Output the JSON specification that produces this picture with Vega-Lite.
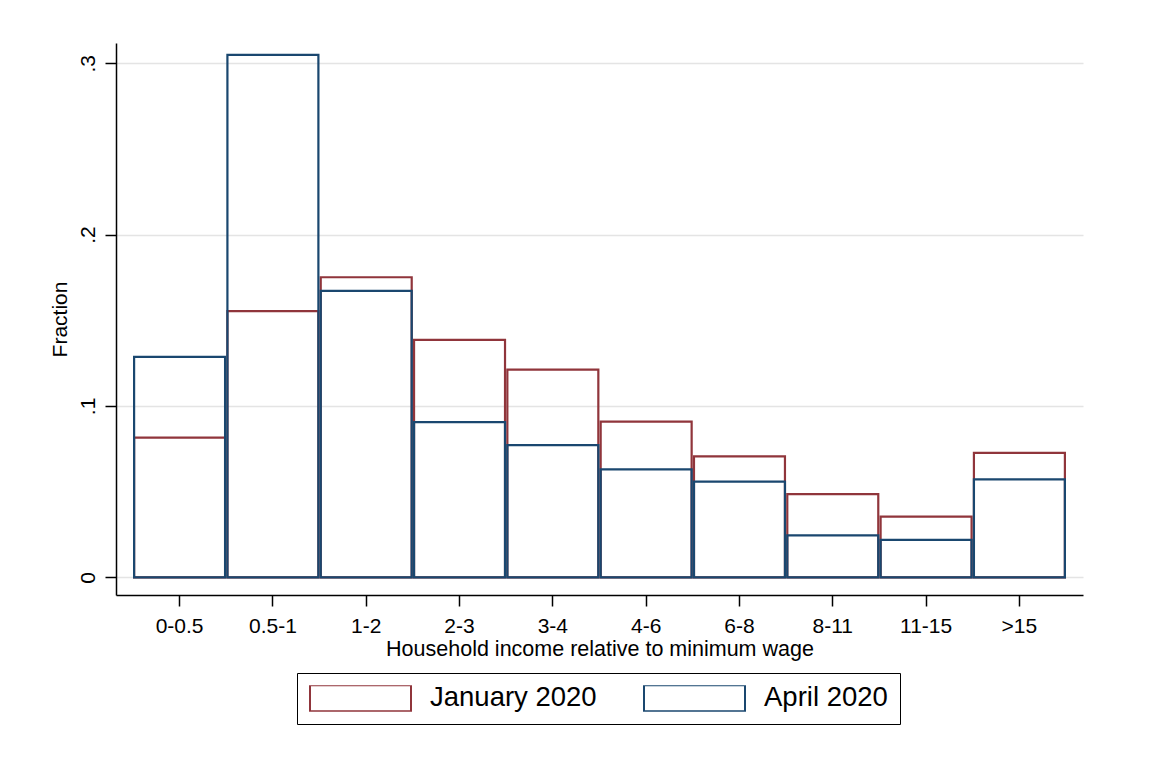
{
  "$schema": "https://vega.github.io/schema/vega-lite/v6.json",
  "width": 967,
  "height": 552,
  "autosize": {"type": "none"},
  "padding": {"left": 116, "top": 43, "right": 92, "bottom": 166},
  "background": "white",
  "config": {"view": {"stroke": null}, "font": "Liberation Sans"},
  "data": {"values": [
    {"bin": "0-0.5", "series": "January 2020", "fraction": 0.0815},
    {"bin": "0.5-1", "series": "January 2020", "fraction": 0.1553},
    {"bin": "1-2", "series": "January 2020", "fraction": 0.1751},
    {"bin": "2-3", "series": "January 2020", "fraction": 0.1385},
    {"bin": "3-4", "series": "January 2020", "fraction": 0.1212},
    {"bin": "4-6", "series": "January 2020", "fraction": 0.0908},
    {"bin": "6-8", "series": "January 2020", "fraction": 0.0706},
    {"bin": "8-11", "series": "January 2020", "fraction": 0.0485},
    {"bin": "11-15", "series": "January 2020", "fraction": 0.0354},
    {"bin": ">15", "series": "January 2020", "fraction": 0.0726},
    {"bin": "0-0.5", "series": "April 2020", "fraction": 0.1286},
    {"bin": "0.5-1", "series": "April 2020", "fraction": 0.3049},
    {"bin": "1-2", "series": "April 2020", "fraction": 0.1671},
    {"bin": "2-3", "series": "April 2020", "fraction": 0.0905},
    {"bin": "3-4", "series": "April 2020", "fraction": 0.0771},
    {"bin": "4-6", "series": "April 2020", "fraction": 0.0630},
    {"bin": "6-8", "series": "April 2020", "fraction": 0.0558},
    {"bin": "8-11", "series": "April 2020", "fraction": 0.0245},
    {"bin": "11-15", "series": "April 2020", "fraction": 0.0218},
    {"bin": ">15", "series": "April 2020", "fraction": 0.0572}
  ]},
  "mark": {"type": "bar", "filled": false, "strokeWidth": 2.2},
  "encoding": {
    "x": {
      "field": "bin",
      "type": "nominal",
      "sort": ["0-0.5", "0.5-1", "1-2", "2-3", "3-4", "4-6", "6-8", "8-11", "11-15", ">15"],
      "scale": {"paddingInner": 0.025, "paddingOuter": 0.194},
      "axis": {
        "title": "Household income relative to minimum wage",
        "labelAngle": 0,
        "labelFontSize": 21,
        "titleFontSize": 21.5,
        "titleFontWeight": "normal",
        "tickSize": 11,
        "labelPadding": 9,
        "titlePadding": 2,
        "domainColor": "black",
        "tickColor": "black",
        "domainWidth": 1.5,
        "tickWidth": 1.5,
        "labelColor": "black",
        "titleColor": "black",
        "grid": false
      }
    },
    "y": {
      "field": "fraction",
      "type": "quantitative",
      "stack": null,
      "scale": {"domain": [-0.01033, 0.3118], "nice": false, "zero": false},
      "axis": {
        "title": "Fraction",
        "values": [0, 0.1, 0.2, 0.3],
        "labelExpr": "datum.value == 0 ? '0' : replace(format(datum.value, '.1f'), '0.', '.')",
        "labelAngle": -90,
        "labelFontSize": 21,
        "titleFontSize": 21,
        "titleFontWeight": "normal",
        "tickSize": 11,
        "labelPadding": 7,
        "titlePadding": 7,
        "domainColor": "black",
        "tickColor": "black",
        "domainWidth": 1.5,
        "tickWidth": 1.5,
        "labelColor": "black",
        "titleColor": "black",
        "grid": true,
        "gridColor": "#e4e4e4",
        "gridWidth": 1.5
      }
    },
    "y2": {"datum": 0},
    "stroke": {
      "field": "series",
      "type": "nominal",
      "scale": {"domain": ["January 2020", "April 2020"], "range": ["#90353b", "#1a476f"]},
      "legend": {
        "title": null,
        "orient": "none",
        "legendX": 181,
        "legendY": 630,
        "direction": "horizontal",
        "symbolType": "M-1,-0.2574L1,-0.2574L1,0.2574L-1,0.2574Z",
        "symbolSize": 10201,
        "symbolStrokeWidth": 2,
        "clipHeight": 26,
        "labelOffset": 18,
        "columnPadding": 46,
        "padding": 12,
        "strokeColor": "black",
        "labelFontSize": 27.5,
        "labelColor": "black",
        "labelLimit": 400
      }
    }
  }
}
